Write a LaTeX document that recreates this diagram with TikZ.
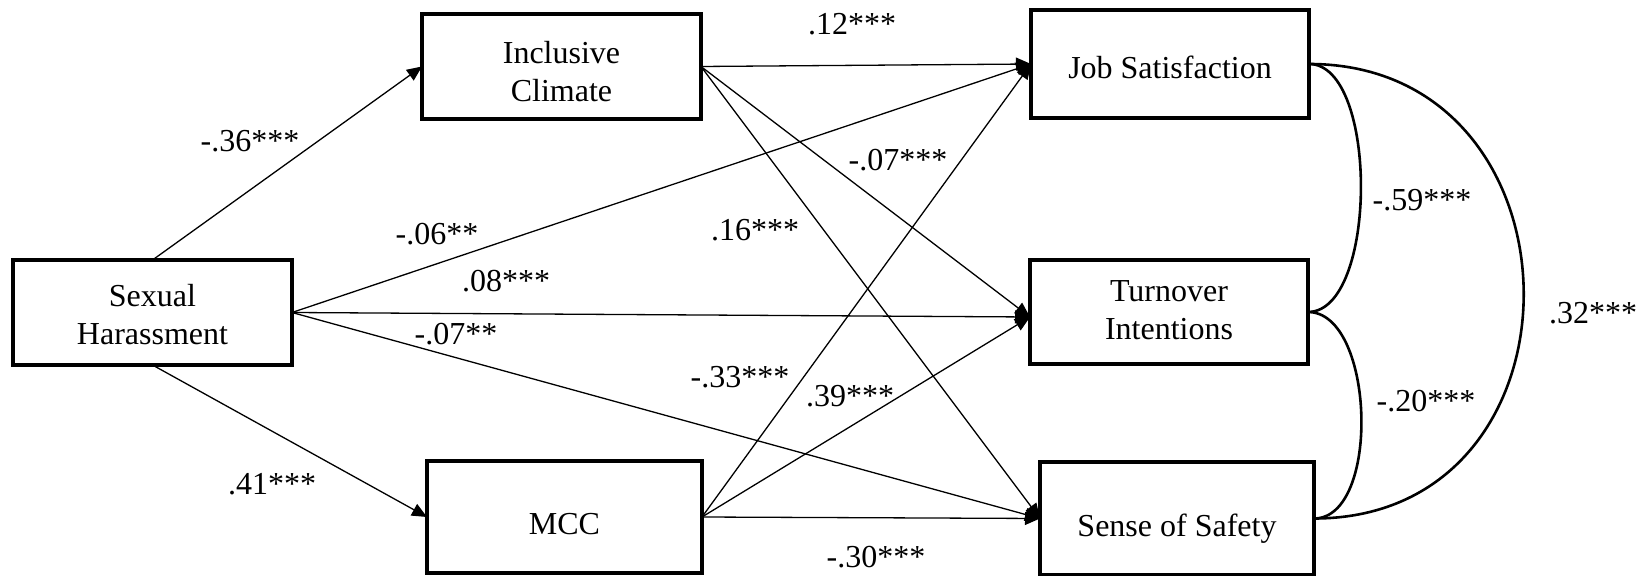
\documentclass[tikz,border=0pt]{standalone}
\usepackage{fontspec}
\setmainfont{Liberation Serif}
\usetikzlibrary{arrows.meta,calc}
\newcommand{\myboxtext}[2]{\raisebox{-#1}[0pt][0pt]{\begin{tabular}[b]{@{}c@{}}#2\end{tabular}}}
\begin{document}
\begin{tikzpicture}[x=0.5pt,y=-0.5pt,
  box/.style={draw,line width=1.6pt,inner sep=0pt,outer sep=0pt,
    font=\fontsize{16}{19}\selectfont},
  pth/.style={line width=0.65pt,-{Triangle[length=7.5pt,width=6.5pt]}},
  cov/.style={line width=1.3pt},
  lab/.style={font=\fontsize{16}{19}\selectfont,inner sep=0pt}]
\useasboundingbox (0,0) rectangle (1648,576);
% boxes
\node[box,minimum width=139.5pt,minimum height=52.5pt] (IC) at (561.5,66.5) {\myboxtext{17.75pt}{Inclusive\\Climate}};
\node[box,minimum width=139pt,minimum height=54pt] (JS) at (1170,64) {\myboxtext{7.5pt}{Job Satisfaction}};
\node[box,minimum width=139.5pt,minimum height=52.5pt] (SH) at (152.5,312.5) {\myboxtext{16.25pt}{Sexual\\Harassment}};
\node[box,minimum width=139pt,minimum height=52pt] (TI) at (1169,312) {\myboxtext{13.75pt}{Turnover\\Intentions}};
\node[box,minimum width=137.5pt,minimum height=56pt] (MCC) at (564.5,517) {\myboxtext{8.5pt}{MCC}};
\node[box,minimum width=137pt,minimum height=56.5pt] (SS) at (1177,518.5) {\myboxtext{9.25pt}{Sense of Safety}};
\coordinate (TIin) at ($(TI.west)+(0,5)$);
% paths
\draw[pth] (SH.north) -- (IC.west);
\draw[pth] (SH.south) -- (MCC.west);
\draw[pth] (SH.east) -- (JS.west);
\draw[pth] (SH.east) -- (TIin);
\draw[pth] (SH.east) -- (SS.west);
\draw[pth] (IC.east) -- (JS.west);
\draw[pth] (IC.east) -- (TIin);
\draw[pth] (IC.east) -- (SS.west);
\draw[pth] (MCC.east) -- (JS.west);
\draw[pth] (MCC.east) -- (TIin);
\draw[pth] (MCC.east) -- (SS.west);
% covariances
\draw[cov] (JS.east) to[out=0,in=0,looseness=0.72] (TI.east);
\draw[cov] (TI.east) to[out=0,in=0,looseness=0.83] (SS.east);
\draw[cov] (JS.east) to[out=0,in=0,looseness=1.59] (SS.east);
% labels
\node[lab] (l1) at (852,24) {.12***};
\node[lab] (l2) at (250,141) {-.36***};
\node[lab] (l3) at (437,234) {-.06**};
\node[lab] (l4) at (506,281) {.08***};
\node[lab] (l5) at (456,334) {-.07**};
\node[lab] (l6) at (272,484) {.41***};
\node[lab] (l7) at (898,160) {-.07***};
\node[lab] (l8) at (755,230) {.16***};
\node[lab] (l9) at (740,377) {-.33***};
\node[lab] (l10) at (850,396) {.39***};
\node[lab] (l11) at (876,557) {-.30***};
\node[lab] (l12) at (1422,200) {-.59***};
\node[lab] (l13) at (1426,401) {-.20***};
\node[lab] (l14) at (1593,313) {.32***};
\end{tikzpicture}
\end{document}
